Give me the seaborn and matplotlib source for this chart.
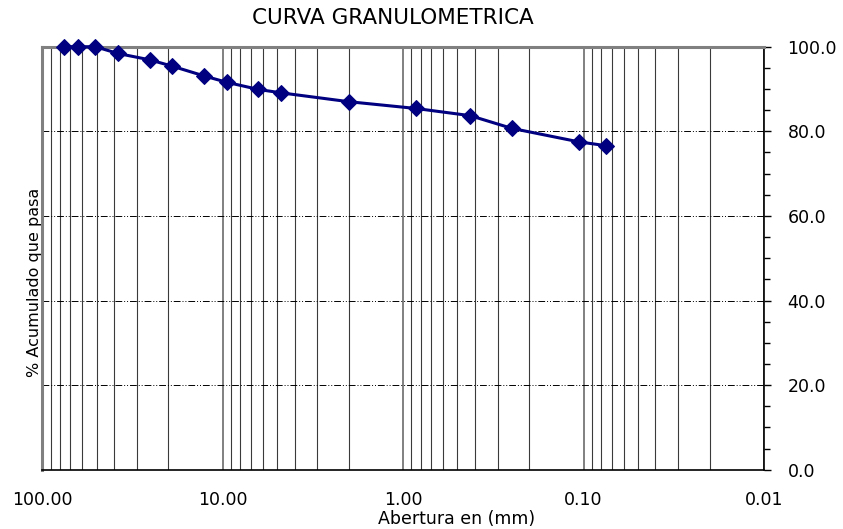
import numpy as np
import pandas as pd
import matplotlib
matplotlib.use("Agg")
import matplotlib.pyplot as plt
import matplotlib.ticker as mticker
import seaborn as sns

# sieve openings (mm) and cumulative percent passing
abertura_mm = [76.2, 63.5, 50.8, 38.1, 25.4, 19.05, 12.7, 9.525, 6.35, 4.76,
               2.00, 0.85, 0.425, 0.25, 0.106, 0.075]
pct_pasa = [100.0, 100.0, 100.0, 98.4, 96.9, 95.4, 93.1, 91.6, 89.9, 89.1,
            87.0, 85.4, 83.7, 80.7, 77.5, 76.6]

x_ticks = [100, 10, 1, 0.1, 0.01]
x_labels = ["100.00", "10.00", "1.00", "0.10", "0.01"]
y_ticks = [0, 20, 40, 60, 80, 100]

df = pd.DataFrame({"abertura": abertura_mm, "pasa": pct_pasa})

sns.set_style("white")
plt.rcParams["font.family"] = ["DejaVu Sans"]
plt.rcParams["text.color"] = "black"

fig = plt.figure(figsize=(8.43, 5.29), dpi=100)
ax = fig.add_axes([0.0502, 0.1121, 0.8561, 0.7996])

ax.set_xscale("log")
ax.set_xlim(100, 0.01)
ax.set_ylim(0, 100)

# vertical grid on every log subdivision
ax.xaxis.set_minor_locator(mticker.LogLocator(base=10, subs=np.arange(2, 10)))
ax.xaxis.set_minor_formatter(mticker.NullFormatter())
ax.grid(which="major", axis="x", color="#808080", linewidth=1.4)
ax.grid(which="minor", axis="x", color="#3a3a3a", linewidth=0.8)

# horizontal dash-dot-dot lines
for yv in y_ticks[1:-1]:
    ax.axhline(yv, color="black", linewidth=0.7, dashes=(7, 2, 1, 2, 1, 2), zorder=1)

sns.lineplot(data=df, x="abertura", y="pasa", ax=ax, color="#000080",
             linewidth=2.2, marker="D", markersize=8, markeredgecolor="#000080",
             sort=False, zorder=5, clip_on=False)

ax.set_xticks(x_ticks)
ax.set_xticklabels(x_labels)
ax.tick_params(axis="x", which="major", direction="out", length=5, width=1,
               color="black", labelcolor="black", labelsize=12.5, pad=10)
ax.tick_params(axis="x", which="minor", length=0)

ax.yaxis.tick_right()
ax.set_yticks(y_ticks)
ax.set_yticklabels([f"{v:.1f}" for v in y_ticks])
ax.yaxis.set_minor_locator(mticker.MultipleLocator(5))
ax.tick_params(axis="y", which="major", direction="out", length=5, width=1,
               color="black", labelcolor="black", labelsize=12.5, pad=12)
ax.tick_params(axis="y", which="minor", direction="out", length=4, width=1,
               color="black")

ax.spines["left"].set_color("#808080")
ax.spines["left"].set_linewidth(2.2)
ax.spines["top"].set_color("#808080")
ax.spines["top"].set_linewidth(2.2)
ax.spines["right"].set_color("black")
ax.spines["right"].set_linewidth(1.2)
ax.spines["bottom"].set_color("black")
ax.spines["bottom"].set_linewidth(1.2)

ax.set_xlabel("")
ax.set_ylabel("")
fig.text(393 / 843, 1 - 18 / 529, "CURVA GRANULOMETRICA", fontsize=15.5,
         ha="center", va="center", color="black")
fig.text(457 / 843, 1 - 519 / 529, "Abertura en (mm)", fontsize=12.5,
         ha="center", va="center", color="black")
fig.text(35 / 843, 1 - 282 / 529, "% Acumulado que pasa", fontsize=11.5,
         ha="center", va="center", rotation=90, color="black")

fig.savefig("out.png", dpi=100)
